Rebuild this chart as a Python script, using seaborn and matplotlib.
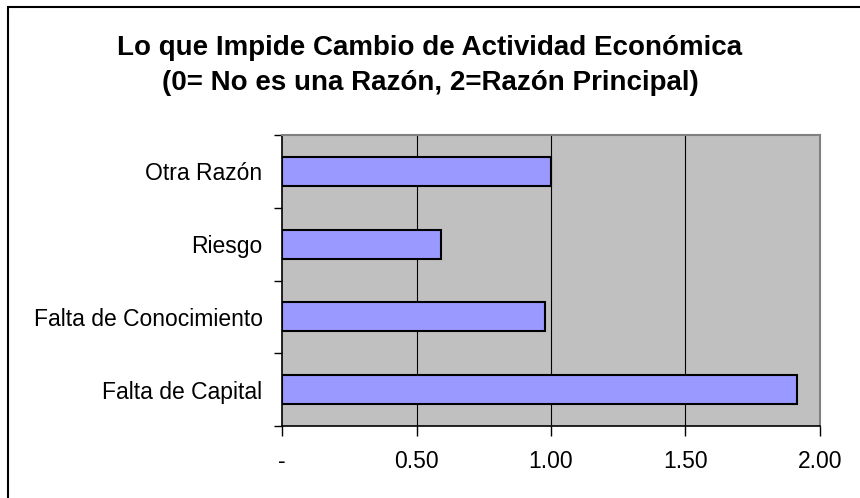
import matplotlib
matplotlib.use('Agg')
import pandas as pd
import matplotlib.pyplot as plt
import seaborn as sns
from matplotlib.patches import Rectangle

razones = ['Otra Razón', 'Riesgo', 'Falta de Conocimiento', 'Falta de Capital']
valores = [1.00, 0.59, 0.976, 1.914]
xticks = [0.0, 0.5, 1.0, 1.5, 2.0]
xlabels = ['-', '0.50', '1.00', '1.50', '2.00']
titulo = 'Lo que Impide Cambio de Actividad Económica\n(0= No es una Razón, 2=Razón Principal)'

df = pd.DataFrame({'razon': razones, 'valor': valores})

sns.set_style('white')
plt.rcParams['font.family'] = ['Liberation Sans', 'DejaVu Sans']
plt.rcParams['text.color'] = 'black'
plt.rcParams['xtick.color'] = 'black'
plt.rcParams['ytick.color'] = 'black'

fig = plt.figure(figsize=(8.6, 4.98), dpi=100)
ax = fig.add_axes([282 / 860, 1 - 426 / 498, 538 / 860, 291 / 498])
ax.set_facecolor('#C0C0C0')

sns.barplot(data=df, x='valor', y='razon', orient='h', color='#9999FF',
            edgecolor='black', linewidth=1.5, width=0.4, saturation=1, ax=ax)

ax.set_xlim(0, 2)
ax.set_ylim(3.5, -0.5)
ax.set_xticks(xticks)
ax.set_xticklabels(xlabels, fontsize=16.5)
for v in xticks[1:-1]:
    ax.axvline(v, color='black', lw=0.8, zorder=0.5)

ax.set_yticks(range(len(razones)))
ax.set_yticklabels(razones, fontsize=16.5)
ax.set_yticks([i - 0.5 for i in range(len(razones) + 1)], minor=True)
ax.tick_params(axis='y', which='major', length=0, pad=14)
ax.tick_params(axis='y', which='minor', length=6, width=1, color='black', direction='out', left=True)
ax.tick_params(axis='x', length=7, width=1, color='black', direction='out', bottom=True, pad=10.5)

ax.set_xlabel('')
ax.set_ylabel('')
for s in ['left', 'bottom']:
    ax.spines[s].set_color('black')
    ax.spines[s].set_linewidth(1.2)
for s in ['top', 'right']:
    ax.spines[s].set_color('#808080')
    ax.spines[s].set_linewidth(1.5)

fig.text(0.5, 1 - 65 / 498, titulo, ha='center', va='center', fontsize=20,
         fontweight='bold', linespacing=1.45)

# chart border: only the top and left edges fall inside the image
fig.patches.append(Rectangle((8 / 860, -10 / 498), 870 / 860, 501 / 498, transform=fig.transFigure,
                             fill=False, edgecolor='black', linewidth=1.5))

fig.savefig('out.png', dpi=100)
